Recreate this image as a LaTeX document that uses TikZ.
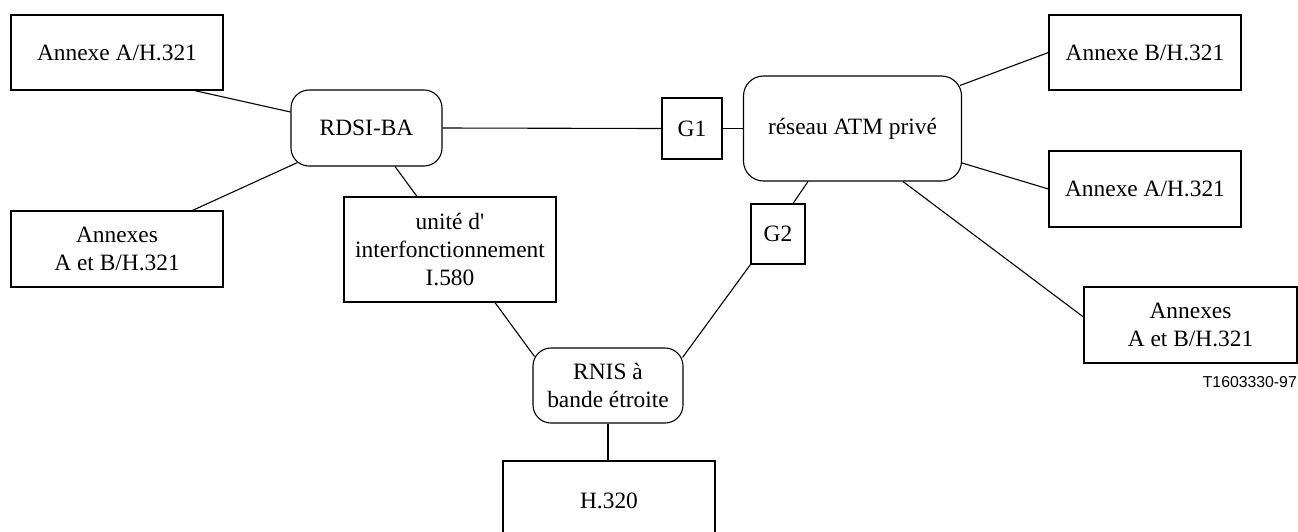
\documentclass[tikz,border=0pt]{standalone}
\usepackage{fontspec}
\setmainfont{Liberation Serif}[Ligatures=TeXOff]
\newfontfamily\labelfont{Liberation Sans}
\usetikzlibrary{calc}
\begin{document}
\begin{tikzpicture}[x=1pt,y=-1pt,
  box/.style={draw,line width=1.1pt,inner sep=0pt,align=center,
    font=\fontsize{23.4}{28}\selectfont},
  rbox/.style={box,rounded corners=18pt},
  conn/.style={line width=1.1pt}]
\useasboundingbox (0,0) rectangle (1298,531);
% left boxes
\node[box,minimum width=212pt,minimum height=75pt] (a1) at (117,52.5) {Annexe A/H.321};
\node[box,minimum width=212pt,minimum height=76pt] (a2) at (117,249) {Annexes\\A et B/H.321};
% networks
\node[rbox,minimum width=151pt,minimum height=76pt] (rdsi) at (366.5,128) {RDSI-BA};
\node[box,minimum width=212pt,minimum height=105pt] (unit) at (450,249.5) {unit\'e d'\\interfonctionnement\\I.580};
\node[box,minimum width=60pt,minimum height=61pt] (g1) at (692,128.5) {G1};
\node[rbox,rounded corners=20pt,minimum width=218pt,minimum height=105pt] (atm) at (852.5,128.5) {r\'eseau ATM priv\'e};
\node[box,minimum width=54pt,minimum height=60pt] (g2) at (778,234) {G2};
\node[rbox,minimum width=150pt,minimum height=75pt] (rnis) at (608,385.5) {RNIS \`a\\bande \'etroite};
\node[box,minimum width=212pt,minimum height=80pt] (h320) at (609,501) {H.320};
% right boxes
\node[box,minimum width=192pt,minimum height=75pt] (b1) at (1145,52.5) {Annexe B/H.321};
\node[box,minimum width=192pt,minimum height=76pt] (b2) at (1145,189) {Annexe A/H.321};
\node[box,minimum width=213pt,minimum height=76pt] (b3) at (1190.5,325) {Annexes\\A et B/H.321};
% label
\node[anchor=east,inner sep=0pt,font=\labelfont\fontsize{15.8}{18}\selectfont] (lbl) at (1297,382) {T1603330-97};
% connectors
\draw[conn] ($(a1.south west)+(184,0)$) -- ($(rdsi.west)+(0,-16)$);
\draw[conn] ($(a2.north west)+(182,0)$) -- ($(rdsi.south west)+(7,-4)$);
\draw[conn] ($(rdsi.south)+(28.5,0)$) -- ($(unit.north)+(-33,0)$);
\draw[conn] (rdsi.east) -- (g1.west);
\draw[conn] (g1.east) -- (atm.west);
\draw[conn] ($(atm.south)+(-44.5,0)$) -- ($(g2.north)+(15,0)$);
\draw[conn] (g2.south west) -- ($(rnis.north east)+(-1,10)$);
\draw[conn] ($(unit.south)+(45,0)$) -- ($(rnis.north west)+(2,9)$);
\draw[conn,line width=1.6pt] (rnis.south) -- (rnis.south |- h320.north);
\draw[conn] ($(atm.north east)+(-2,10)$) -- (b1.west);
\draw[conn] ($(atm.east)+(0,34.5)$) -- (b2.west);
\draw[conn] ($(atm.south)+(50.5,0)$) -- ($(b3.west)+(0,-8)$);
\end{tikzpicture}
\end{document}
